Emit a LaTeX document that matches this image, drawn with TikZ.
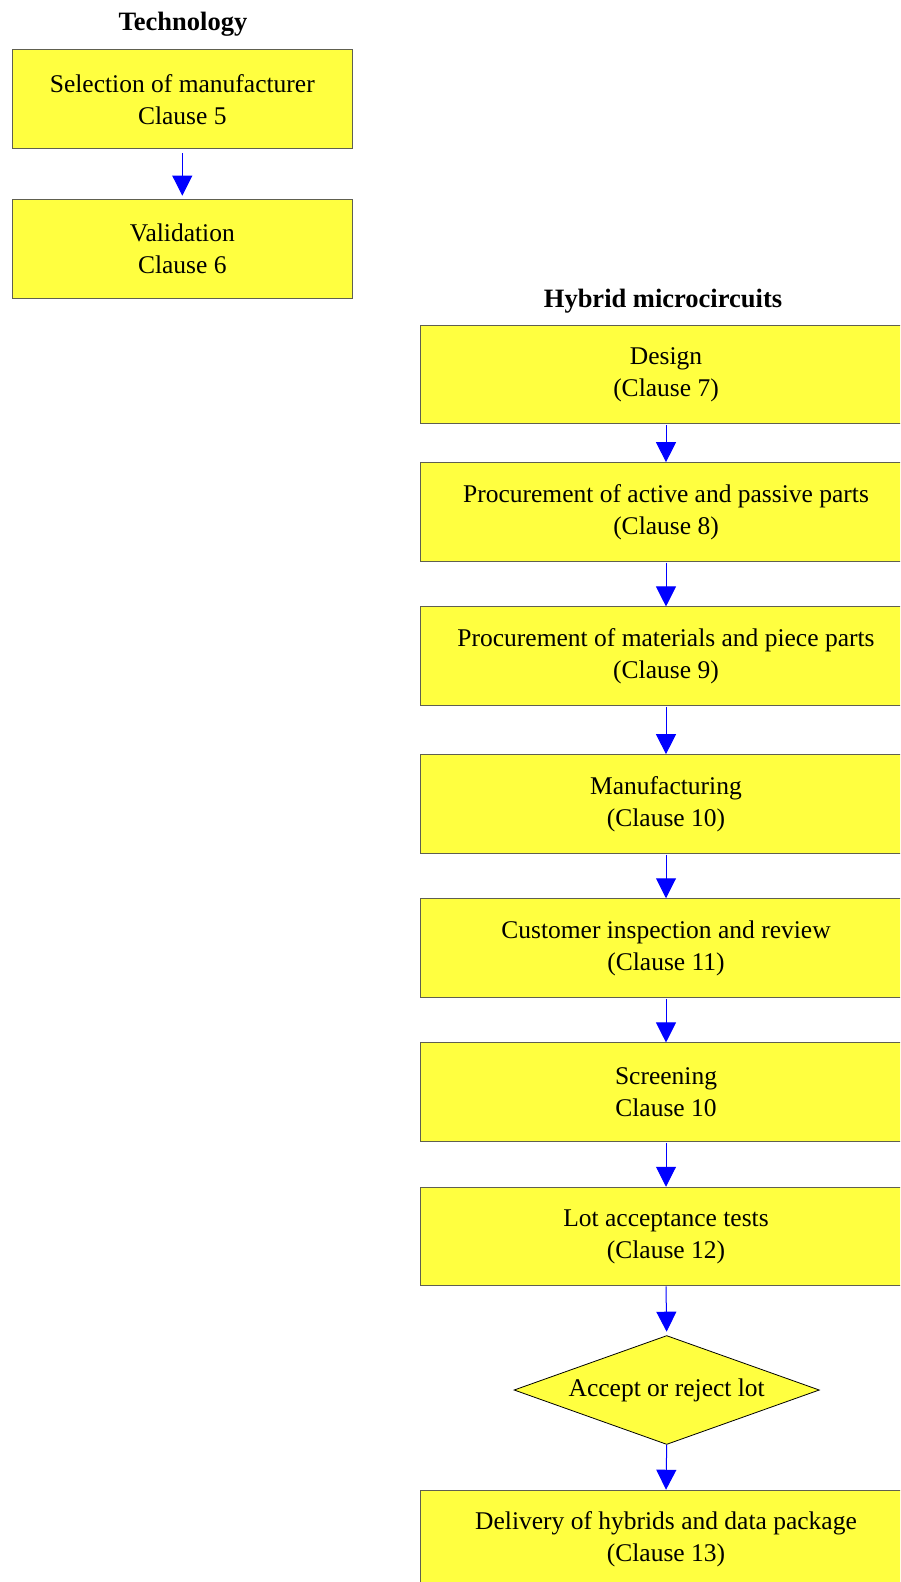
\documentclass[tikz,border=0pt]{standalone}
\usepackage{fontspec}
\setmainfont{Liberation Serif}
\usetikzlibrary{arrows.meta,shapes.geometric}
\definecolor{boxyellow}{RGB}{255,255,64}
\definecolor{boxedge}{RGB}{96,96,80}
\definecolor{arrowblue}{RGB}{0,0,255}
\tikzset{
  stepbox/.style={rectangle, draw=boxedge, fill=boxyellow, line width=1pt,
    inner sep=0pt, outer sep=0pt, align=center, minimum height=98.5pt,
    font=\fontsize{25.5}{32}\selectfont},
  leftbox/.style={stepbox, minimum width=340pt},
  rightbox/.style={stepbox, minimum width=492pt},
  decision/.style={diamond, aspect=2.81, draw=black, fill=boxyellow, line width=0.8pt,
    inner sep=0pt, outer sep=0pt, minimum width=305pt, minimum height=108.6pt,
    font=\fontsize{25.5}{32}\selectfont},
  heading/.style={anchor=base, font=\fontsize{26.5}{30}\selectfont\bfseries},
  flow/.style={draw=arrowblue, line width=1pt,
    -{Triangle[width=20pt,length=20pt,fill=arrowblue]}}
}
\begin{document}
\begin{tikzpicture}[x=1pt,y=-1pt]
\useasboundingbox (0,0) rectangle (900,1582);
\clip (0,0) rectangle (900,1582);
% Technology column
\node[heading] (tech) at (183,30) {Technology};
\node[leftbox] (sel) at (182.3,99.2) {Selection of manufacturer\\Clause 5};
\node[leftbox] (val) at (182.3,248.9) {Validation\\Clause 6};
\draw[flow, shorten <=5pt, shorten >=4pt] (sel.south) -- (val.north);
% Hybrid column
\node[heading] (hyb) at (663,307) {Hybrid microcircuits};
\node[rightbox] (des) at (666,374.4) {Design\\(Clause 7)};
\node[rightbox] (pap) at (666,511.9) {Procurement of active and passive parts\\(Clause 8)};
\node[rightbox] (pmp) at (666,656.2) {Procurement of materials and piece parts\\(Clause 9)};
\node[rightbox] (man) at (666,803.9) {Manufacturing\\(Clause 10)};
\node[rightbox] (cir) at (666,948) {Customer inspection and review\\(Clause 11)};
\node[rightbox] (scr) at (666,1092.2) {Screening\\Clause 10};
\node[rightbox] (lat) at (666,1236.5) {Lot acceptance tests\\(Clause 12)};
\node[decision] (acc) at (666.7,1390) {Accept or reject lot};
\node[rightbox] (del) at (666,1539.5) {Delivery of hybrids and data package\\(Clause 13)};
\foreach \a/\b in {des/pap,pap/pmp,pmp/man,man/cir,cir/scr,scr/lat}
  \draw[flow, shorten <=1.5pt, shorten >=0.5pt] (\a.south) -- (\b.north);
\draw[flow, shorten <=0.5pt, shorten >=4pt] (lat.south) -- (acc.north);
\draw[flow, shorten <=0.5pt, shorten >=0.5pt] (acc.south) -- (del.north);
\end{tikzpicture}
\end{document}
